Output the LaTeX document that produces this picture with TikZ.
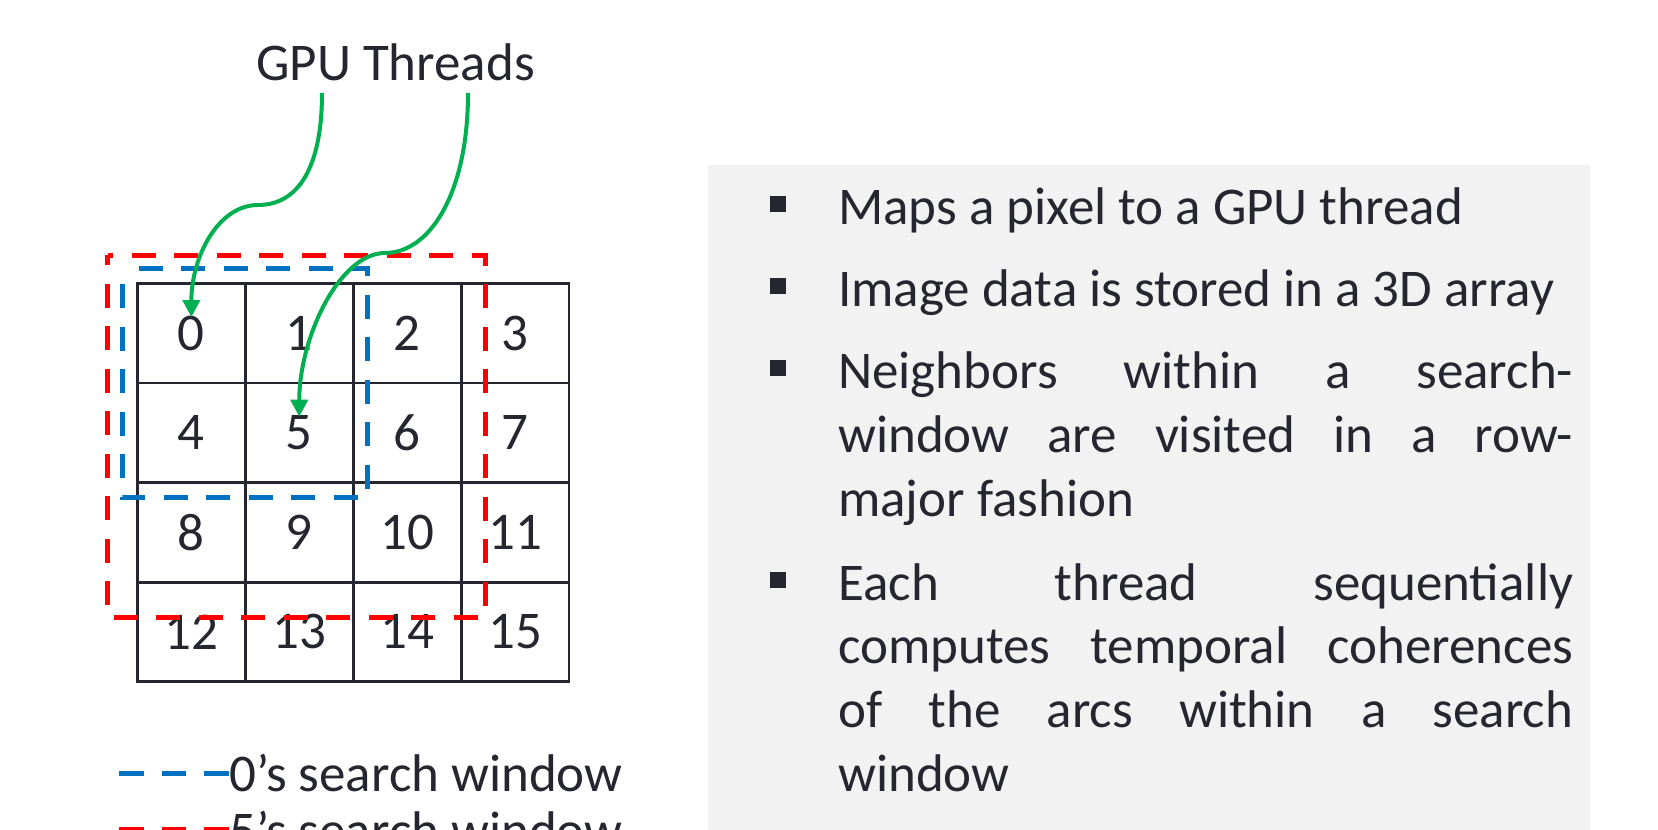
\documentclass[tikz,border=0pt]{standalone}
\usepackage{fontspec}
\setmainfont{Carlito}
\usetikzlibrary{arrows.meta}
\definecolor{ink}{RGB}{38,38,48}
\definecolor{thrgreen}{RGB}{0,176,80}
\definecolor{winblue}{RGB}{0,112,192}
\definecolor{winred}{RGB}{255,0,0}
\definecolor{panelgray}{RGB}{242,242,242}
\newcommand\jline[1]{\makebox[735pt][s]{#1}}
\begin{document}
\begin{tikzpicture}[x=1pt,y=-1pt,
  txt/.style={font=\fontsize{53}{64}\selectfont, text=ink, inner sep=0pt},
  cellbox/.style={txt, draw=ink, line width=2.8pt, minimum width=107.9pt, minimum height=99.6pt},
  thread/.style={draw=thrgreen, line width=4pt, -{Triangle[length=17pt,width=17pt]}},
  winb/.style={draw=winblue, line width=5pt, dash pattern=on 24pt off 18.5pt},
  winr/.style={draw=winred, line width=5pt, dash pattern=on 24pt off 18.5pt},
  bulletsq/.style={fill=ink}
]
\useasboundingbox (0,0) rectangle (1658,830);
\clip (0,0) rectangle (1658,830);

% right panel
\fill[panelgray] (707.5,165) rectangle (1590,840);

% grid cells
\foreach \i in {0,...,15}{
  \pgfmathtruncatemacro{\col}{mod(\i,4)}
  \pgfmathtruncatemacro{\row}{int(\i/4)}
  \node[cellbox] (c\i) at ({137.4+107.9*(\col+0.5)},{283.3+99.6*(\row+0.5)}) {\i};
}

% search windows
\draw[winr, dash phase=14pt] (107.7,255) rectangle (485,617.3);
\draw[winb, dash phase=26.5pt] (122.3,268.3) rectangle (367.3,497.7);

% title and threads
\node[txt, anchor=base] (title) at (395.5,80) {GPU Threads};
\coordinate (t0) at (322,93);
\coordinate (t5) at (468,93);
\coordinate (m0) at (258,205);
\coordinate (m5) at (385,253);
\draw[thread] (t0) .. controls +(0,75) and +(40,0) .. (m0)
  .. controls +(-40,0) and +(0,-60) .. ([yshift=16pt]c0.center);
\draw[thread] (t5) .. controls +(0,100) and +(45,0) .. (m5)
  .. controls +(-45,0) and +(0,-80) .. ([yshift=16pt]c5.center);

% legend
\node[txt, anchor=base west] (lg0) at (229,791.7) {0’s search window};
\node[txt, anchor=base west] (lg5) at (229,848) {5’s search window};
\draw[winb, dash pattern=on 24.5pt off 18pt] ([xshift=-110pt]lg0.west) -- (lg0.west);
\draw[winr, dash pattern=on 24.5pt off 18pt] ([xshift=-110pt]lg5.west) -- (lg5.west);

% bullets
\foreach \b in {224,306,388.3,600}{
  \fill[bulletsq] (770,\b-28) rectangle (786,\b-12);
}

% body text
\node[txt, anchor=base west] (p1) at (838,224) {Maps a pixel to a GPU thread};
\node[txt, anchor=base west] (p2) at (838,306) {Image data is stored in a 3D array};
\node[txt, anchor=base west] (p3a) at (838,388.3) {\jline{Neighbors within a search-}};
\node[txt, anchor=base west] (p3b) at (838,452.7) {\jline{window are visited in a row-}};
\node[txt, anchor=base west] (p3c) at (838,516.7) {major fashion};
\node[txt, anchor=base west] (p4a) at (838,600) {\jline{Each thread sequentially}};
\node[txt, anchor=base west] (p4b) at (838,663.3) {\jline{computes temporal coherences}};
\node[txt, anchor=base west] (p4c) at (838,727.3) {\jline{of the arcs within a search}};
\node[txt, anchor=base west] (p4d) at (838,791.7) {window};
\end{tikzpicture}
\end{document}
